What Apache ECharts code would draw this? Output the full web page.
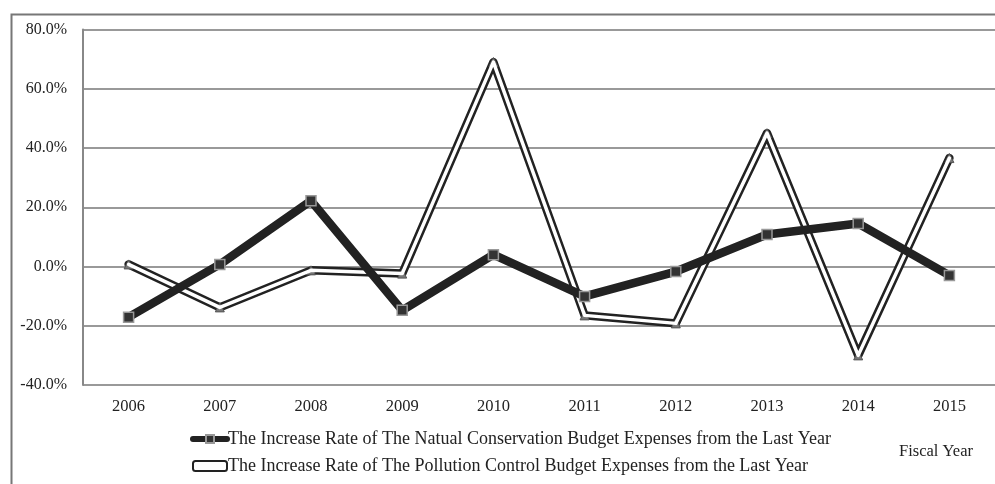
<!DOCTYPE html>
<html>
<head>
<meta charset="utf-8">
<script src="https://cdn.jsdelivr.net/npm/echarts@6/dist/echarts.min.js"></script>
<style>
html,body{margin:0;padding:0;background:#fff;}
#main{width:995px;height:484px;}
</style>
</head>
<body>
<div id="main"></div>
<script>
// 年度
var years = ['2006','2007','2008','2009','2010','2011','2012','2013','2014','2015'];
// 自然保护预算增长率 (%)
var natureRate = [-17.1, 0.7, 22.2, -14.8, 4.0, -10.1, -1.7, 10.8, 14.5, -3.0];
// 污染控制预算增长率 (%)
var pollutionRate = [0.7, -13.8, -1.3, -2.4, 69.0, -16.5, -19.2, 45.0, -30.0, 36.6];
var yTicks = [-40, -20, 0, 20, 40, 60, 80];

var nameNature = 'The Increase Rate of The Natual Conservation Budget Expenses from the Last Year';
var namePollution = 'The Increase Rate of The Pollution Control Budget Expenses from the Last Year';
var serif = '"Liberation Serif","DejaVu Serif",serif';

var myChart = echarts.init(document.getElementById('main'));
var option = {
    animation: false,
    backgroundColor: '#fff',
    grid: {left: 83, right: 0, top: 29.5, bottom: 99},
    legend: {
        orient: 'vertical',
        left: 185,
        top: 425,
        itemGap: 9,
        itemWidth: 34,
        itemHeight: 10,
        textStyle: {fontFamily: serif, fontSize: 18, color: '#222', padding: [0, 0, 0, -4]},
        data: [
            {name: nameNature, lineStyle: {width: 6, color: '#222'}},
            {name: namePollution, icon: 'roundRect',
             itemStyle: {color: '#fff', borderColor: '#222', borderWidth: 2}}
        ]
    },
    xAxis: {
        type: 'category',
        data: years,
        boundaryGap: true,
        axisLine: {show: false},
        axisTick: {show: false},
        axisLabel: {fontFamily: serif, fontSize: 16.5, color: '#222', margin: 13}
    },
    yAxis: {
        type: 'value',
        min: yTicks[0],
        max: yTicks[yTicks.length - 1],
        interval: 20,
        axisLine: {show: true, lineStyle: {color: '#888', width: 2}},
        axisTick: {show: false},
        splitLine: {lineStyle: {color: '#999', width: 2}},
        axisLabel: {
            fontFamily: serif, fontSize: 16, color: '#222', margin: 16,
            formatter: function (v) { return v.toFixed(1) + '%'; }
        }
    },
    graphic: [
        {type: 'rect', left: 9, top: 12, shape: {width: 1000, height: 500},
         style: {fill: 'none', stroke: '#777', lineWidth: 2}, silent: true},
        {type: 'text', left: 899, top: 443,
         style: {text: 'Fiscal Year', font: '16.5px ' + serif, fill: '#222'}}
    ],
    series: [
        {   // 外侧黑线
            name: namePollution,
            type: 'line',
            data: pollutionRate,
            z: 2,
            symbol: 'triangle',
            symbolSize: 9,
            itemStyle: {color: '#777', borderColor: '#555', borderWidth: 1},
            lineStyle: {color: '#222', width: 8.5, join: 'round', cap: 'round'}
        },
        {   // 内侧白线
            name: 'pollution-inner',
            type: 'line',
            data: pollutionRate,
            z: 3,
            symbol: 'none',
            lineStyle: {color: '#fff', width: 3.5, join: 'round', cap: 'round'},
            silent: true
        },
        {
            name: nameNature,
            type: 'line',
            data: natureRate,
            z: 4,
            symbol: 'rect',
            symbolSize: 10,
            itemStyle: {color: '#333', borderColor: '#999', borderWidth: 1.5},
            lineStyle: {color: '#222', width: 8.5, join: 'round', cap: 'round'}
        }
    ]
};
myChart.setOption(option, true);
</script>
</body>
</html>
